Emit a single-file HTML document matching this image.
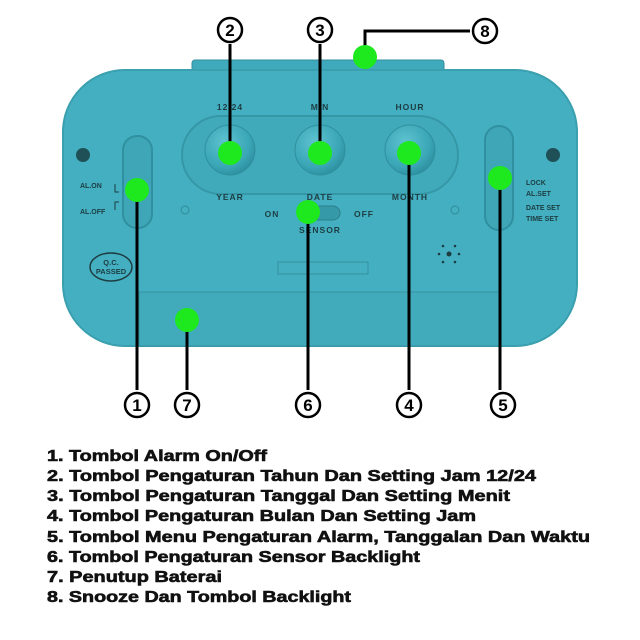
<!DOCTYPE html>
<html><head><meta charset="utf-8"><style>
html,body{margin:0;padding:0;background:#fff;}
svg{display:block}
</style></head><body>
<svg width="640" height="640" viewBox="0 0 640 640" xmlns="http://www.w3.org/2000/svg" font-family="Liberation Sans, Arial, sans-serif">
<defs>
<radialGradient id="btn" cx="0.4" cy="0.35" r="0.7">
<stop offset="0" stop-color="#5ec3d0"/><stop offset="0.7" stop-color="#3aa6b6"/><stop offset="1" stop-color="#2c8d9c"/>
</radialGradient>
</defs>
<rect width="640" height="640" fill="#fff"/>
<rect x="192" y="60" width="252" height="16" rx="3" fill="#3eaabb" stroke="#348f9d"/>
<rect x="63" y="70" width="514" height="276" rx="62" fill="#44afc0" stroke="#3a9fae" stroke-width="2"/>
<circle cx="83" cy="155" r="7" fill="#1f4f57"/>
<circle cx="553" cy="155" r="7" fill="#1f4f57"/>
<rect x="182" y="116" width="276" height="78" rx="39" fill="#40aaba" stroke="#3597a6" stroke-width="2"/>
<circle cx="230" cy="150" r="25" fill="url(#btn)" stroke="#2f8f9e"/>
<circle cx="320" cy="150" r="25" fill="url(#btn)" stroke="#2f8f9e"/>
<circle cx="410" cy="150" r="25" fill="url(#btn)" stroke="#2f8f9e"/>
<g font-weight="bold" font-size="8.5" fill="#1d3d42" text-anchor="middle" letter-spacing="1">
<text x="230" y="110">12/24</text><text x="320" y="110">MIN</text><text x="410" y="110">HOUR</text>
<text x="230" y="200">YEAR</text><text x="320" y="200">DATE</text><text x="410" y="200">MONTH</text>
<text x="272" y="217">ON</text><text x="364" y="217">OFF</text><text x="320" y="233">SENSOR</text>
</g>
<rect x="300" y="206" width="40" height="14" rx="7" fill="#3699a8" stroke="#2c7f8c"/>
<circle cx="185" cy="210" r="4" fill="none" stroke="#2f8c9a"/>
<circle cx="455" cy="210" r="4" fill="none" stroke="#2f8c9a"/>
<rect x="123" y="136" width="29" height="92" rx="14" fill="#3ea6b6" stroke="#3090a0" stroke-width="2"/>
<g font-weight="bold" font-size="7" fill="#1d3d42">
<text x="80" y="188">AL.ON</text><text x="80" y="214">AL.OFF</text>
<text x="526" y="185">LOCK</text><text x="526" y="196">AL.SET</text>
<text x="526" y="210">DATE SET</text><text x="526" y="221">TIME SET</text>
</g>
<path d="M115 184 v8 h4 M119 202 h-4 v8" fill="none" stroke="#1d3d42"/>
<rect x="485" y="126" width="28" height="104" rx="14" fill="#3ea6b6" stroke="#3090a0" stroke-width="2"/>
<ellipse cx="111" cy="267" rx="21" ry="14" fill="none" stroke="#1d3d42" stroke-width="1.5"/>
<text x="111" y="265" font-size="7.5" font-weight="bold" text-anchor="middle" fill="#1d3d42">Q.C.</text>
<text x="111" y="274" font-size="7.5" font-weight="bold" text-anchor="middle" fill="#1d3d42">PASSED</text>
<g fill="#1d3d42"><circle cx="449" cy="254" r="2.5"/><circle cx="443" cy="246" r="1.3"/><circle cx="455" cy="246" r="1.3"/><circle cx="439" cy="254" r="1.3"/><circle cx="459" cy="254" r="1.3"/><circle cx="443" cy="262" r="1.3"/><circle cx="455" cy="262" r="1.3"/></g>
<rect x="278" y="262" width="90" height="12" fill="none" stroke="#3391a0"/>
<rect x="139" y="292" width="360" height="54" fill="#42abbb" stroke="#3493a2"/>
<g stroke="#000" stroke-width="3" fill="none">
<line x1="230" y1="44" x2="230" y2="153"/>
<line x1="320" y1="44" x2="320" y2="153"/>
<path d="M365 57 V31 H470"/>
<line x1="137" y1="190" x2="137" y2="390"/>
<line x1="187" y1="320" x2="187" y2="390"/>
<line x1="308" y1="212" x2="308" y2="390"/>
<line x1="409" y1="153" x2="409" y2="390"/>
<line x1="500" y1="178" x2="500" y2="390"/>
</g>
<g fill="#1ee81e">
<circle cx="230" cy="153" r="12"/><circle cx="320" cy="153" r="12"/><circle cx="409" cy="153" r="12"/>
<circle cx="365" cy="57" r="12"/><circle cx="137" cy="190" r="12"/><circle cx="500" cy="178" r="12"/>
<circle cx="308" cy="212" r="12"/><circle cx="187" cy="320" r="12"/>
</g>
<g fill="#fff" stroke="#000" stroke-width="2.5">
<circle cx="230" cy="30" r="12"/><circle cx="320" cy="30" r="12"/><circle cx="485" cy="31" r="12"/>
<circle cx="137" cy="405" r="12"/><circle cx="187" cy="405" r="12"/><circle cx="308" cy="405" r="12"/><circle cx="409" cy="405" r="12"/><circle cx="503" cy="405" r="12"/>
</g>
<g font-weight="bold" font-size="17" text-anchor="middle" fill="#000">
<text x="230" y="36">2</text><text x="320" y="36">3</text><text x="485" y="37">8</text>
<text x="137" y="411">1</text><text x="187" y="411">7</text><text x="308" y="411">6</text><text x="409" y="411">4</text><text x="503" y="411">5</text>
</g>
<g font-weight="bold" font-size="15.5" fill="#111" stroke="#111" stroke-width="0.6">
<text x="47" y="461" textLength="220" lengthAdjust="spacingAndGlyphs">1. Tombol Alarm On/Off</text>
<text x="47" y="481" textLength="489" lengthAdjust="spacingAndGlyphs">2. Tombol Pengaturan Tahun Dan Setting Jam 12/24</text>
<text x="47" y="501" textLength="463" lengthAdjust="spacingAndGlyphs">3. Tombol Pengaturan Tanggal Dan Setting Menit</text>
<text x="47" y="521" textLength="429" lengthAdjust="spacingAndGlyphs">4. Tombol Pengaturan Bulan Dan Setting Jam</text>
<text x="47" y="542" textLength="543" lengthAdjust="spacingAndGlyphs">5. Tombol Menu Pengaturan Alarm, Tanggalan Dan Waktu</text>
<text x="47" y="562" textLength="373" lengthAdjust="spacingAndGlyphs">6. Tombol Pengaturan Sensor Backlight</text>
<text x="47" y="582" textLength="175" lengthAdjust="spacingAndGlyphs">7. Penutup Baterai</text>
<text x="47" y="602" textLength="304" lengthAdjust="spacingAndGlyphs">8. Snooze Dan Tombol Backlight</text>
</g>
</svg>
</body></html>
